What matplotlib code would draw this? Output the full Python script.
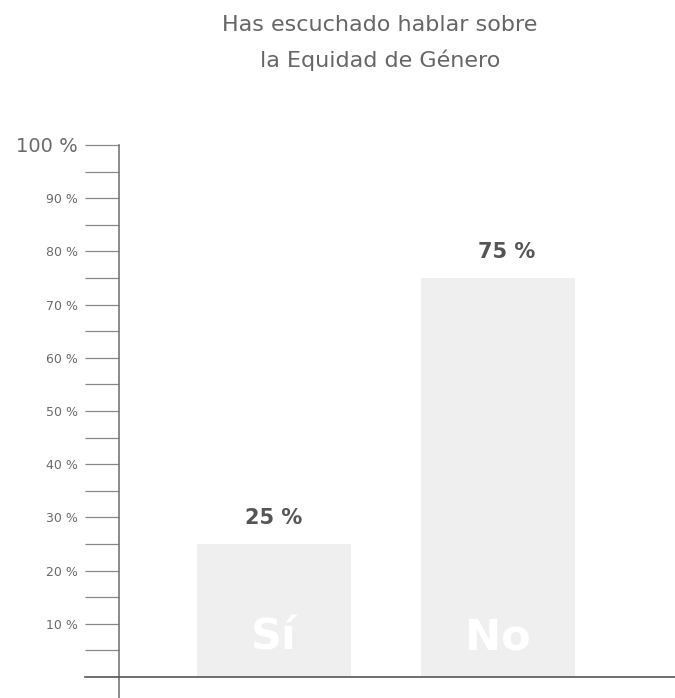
import matplotlib.pyplot as plt
import numpy as np

# Data
categories = ['Sí', 'No']
values = [25, 75]
value_labels = ['25 %', '75 %']
major_ticks = [10, 20, 30, 40, 50, 60, 70, 80, 90, 100]
major_labels = ['10 %', '20 %', '30 %', '40 %', '50 %', '60 %', '70 %', '80 %', '90 %', '100 %']
minor_ticks = [5, 15, 25, 35, 45, 55, 65, 75, 85, 95]
title = 'Has escuchado hablar sobre\nla Equidad de Género'

W, H = 675, 698
fig = plt.figure(figsize=(W / 100, H / 100), dpi=100)
fig.patch.set_facecolor('white')

# axes placed so the y axis sits at x=119px, 0 % at y=677px, 100 % at y=145px
ax_left = 119 / W
ax_top = (H - 145) / H
ax = fig.add_axes([ax_left, 0, 1 - ax_left, ax_top])
px_per_pct = (677 - 145) / 100
ax.set_ylim(-(H - 677) / px_per_pct, 100)
ax_w_px = W - 119
step = 224
ax.set_xlim(-155 / step, (ax_w_px - 155) / step)

grey = '#6a6a6a'
x = np.arange(len(categories))
bars = ax.bar(x, values, width=0.69, color='#efefef', zorder=1)

for xi, v, lab, cat in zip(x, values, value_labels, categories):
    ax.text(xi + (0.04 if xi else 0), v + 3.0, lab, ha='center', va='bottom',
            fontsize=15, fontweight='bold', color='#555555', family='DejaVu Sans')
    ax.text(xi, 7.5, cat, ha='center', va='center', fontsize=31,
            fontweight='bold', color='white', family='DejaVu Sans')

# baseline extending a bit to the left of the axis
ax.axhline(0, xmin=-34 / ax_w_px, xmax=1, color='#555555', lw=1.2, clip_on=False, zorder=3)

for s in ['top', 'right', 'bottom']:
    ax.spines[s].set_visible(False)
ax.spines['left'].set_color('#777777')
ax.spines['left'].set_linewidth(1.2)

ax.set_xticks([])
ax.set_yticks(major_ticks)
ax.set_yticklabels(major_labels)
ax.set_yticks(minor_ticks, minor=True)
ax.tick_params(axis='y', which='both', length=24.5, width=0.9, color='#888888',
               pad=5, labelsize=9, labelcolor=grey)
for t in ax.get_yticklabels():
    t.set_family('DejaVu Sans')
    if t.get_text() == '100 %':
        t.set_fontsize(14)

fig.text(380 / W, 1 - 43 / H, title, ha='center', va='center', fontsize=16,
         color='#666666', linespacing=1.8, family='DejaVu Sans')

fig.savefig('out.png', dpi=100)
